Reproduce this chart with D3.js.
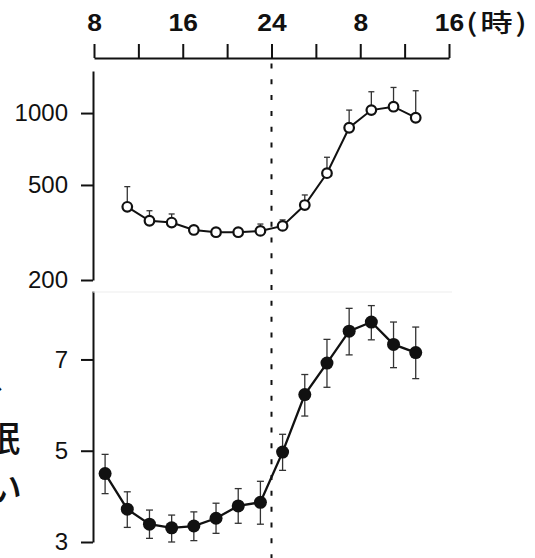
<!DOCTYPE html>
<html>
<head>
<meta charset="utf-8">
<script src="https://cdn.jsdelivr.net/npm/d3@7/dist/d3.min.js"></script>
<style>
	body { margin: 0; background: #fff; }
	svg { display: block; }
</style>
</head>
<body>
<div id="chart"></div>
<script>
/*
	Code for two-panel time course chart
*/

// Clock hours (continuous, 8 h day one -> 16 h day two)
const hourTicks = [8, 12, 16, 20, 24, 28, 32, 36, 40];
const hourLabels = ["8", "", "16", "", "24", "", "8", "", "16"];
const hourUnit = "(時)";

// Upper panel (log axis, open circles, upper error only)
const topHours = [11, 13, 15, 17, 19, 21, 23, 25, 27, 29, 31, 33, 35, 37];
const topValues = [405, 354, 348, 324, 317, 317, 321, 337, 412, 560, 868, 1029, 1063, 956];
const topUpper = [492, 390, 378, 332, 323, 323, 343, 357, 454, 653, 1029, 1228, 1280, 1240];
const topTicks = [200, 500, 1000];

// Lower panel (linear axis, filled circles, two-sided error)
const bottomHours = [9, 11, 13, 15, 17, 19, 21, 23, 25, 27, 29, 31, 33, 35, 37];
const bottomValues = [4.50, 3.72, 3.39, 3.31, 3.35, 3.52, 3.79, 3.87, 4.97, 6.23, 6.92, 7.62, 7.82, 7.33, 7.15];
const bottomLower = [4.06, 3.32, 3.08, 3.00, 3.03, 3.19, 3.41, 3.39, 4.57, 5.76, 6.39, 7.10, 7.43, 6.82, 6.58];
const bottomUpper = [4.92, 4.10, 3.70, 3.59, 3.66, 3.85, 4.17, 4.33, 5.36, 6.67, 7.44, 8.12, 8.18, 7.82, 7.71];
const bottomTicks = [3, 5, 7];

// Lights-off marker
const markerHour = 24;

// Cropped fragments of the vertical label at the left edge
const sideFragments = ["、", "眠", "い"];

class TimeCourseChart {

	// Constructor
	constructor(_parentElement, _width, _height){
		this.parentElement = _parentElement;
		this.svgWidth = _width;
		this.svgHeight = _height;

		this.initializeChart();
	}

	initializeChart(){
		const vis = this;

		vis.axisX = 93;
		vis.topAxisY = 58;

		vis.svg = d3.select(vis.parentElement).append("svg")
			.attr("width", vis.svgWidth)
			.attr("height", vis.svgHeight);

		// Scales
		vis.x = d3.scaleLinear().domain([8, 40]).range([94, 449]);
		vis.yTop = d3.scaleLog().domain([200, 1500]).range([280, 71]);
		vis.yBottom = d3.scaleLinear().domain([3, 8.5]).range([542, 291]);

		vis.drawAxes();
		vis.drawMarker();
		vis.drawTopSeries();
		vis.drawBottomSeries();
		vis.drawSideText();
	}

	drawAxes(){
		const vis = this;

		// Hour axis on top
		const hourAxis = d3.axisTop(vis.x)
			.tickValues(hourTicks)
			.tickSize(14)
			.tickSizeOuter(0)
			.tickPadding(13)
			.tickFormat((d, i) => hourLabels[i]);

		const gx = vis.svg.append("g")
			.attr("class", "hour-axis")
			.attr("transform", "translate(0," + vis.topAxisY + ")")
			.call(hourAxis);

		gx.selectAll("path, line").attr("stroke", "#111").attr("stroke-width", 2);
		// labels in the source look a bit wide, stretch them slightly
		gx.selectAll("text")
			.attr("fill", "#111")
			.attr("transform", "scale(1.1,1)")
			.style("font-family", "'Liberation Sans', Arial, sans-serif")
			.style("font-size", "24px")
			.style("font-weight", "bold");

		vis.svg.append("g")
			.attr("transform", "translate(466,32)")
			.append("text")
			.attr("transform", "scale(1.3,1)")
			.attr("fill", "#111")
			.style("font-family", "'Noto Sans CJK JP', sans-serif")
			.style("font-size", "25px")
			.style("font-weight", "500")
			.style("letter-spacing", "2px")
			.text(hourUnit);

		// Left axes
		const topAxis = d3.axisLeft(vis.yTop)
			.tickValues(topTicks)
			.tickSize(12)
			.tickSizeOuter(0)
			.tickPadding(13)
			.tickFormat(d3.format("d"));

		const bottomAxis = d3.axisLeft(vis.yBottom)
			.tickValues(bottomTicks)
			.tickSize(12)
			.tickSizeOuter(0)
			.tickPadding(13)
			.tickFormat(d3.format("d"));

		[topAxis, bottomAxis].forEach(axis => {
			const g = vis.svg.append("g")
				.attr("transform", "translate(" + vis.axisX + ",0)")
				.call(axis);
			g.selectAll("path, line").attr("stroke", "#111").attr("stroke-width", 2);
			g.selectAll("text")
				.attr("fill", "#111")
				.style("font-family", "'Liberation Sans', Arial, sans-serif")
				.style("font-size", "24px");
		});

		// Faint seam between panels
		vis.svg.append("line")
			.attr("x1", vis.axisX).attr("x2", 452)
			.attr("y1", 292).attr("y2", 292)
			.attr("stroke", "#ededed")
			.attr("stroke-width", 1);
	}

	drawMarker(){
		const vis = this;

		vis.svg.append("line")
			.attr("x1", vis.x(markerHour)).attr("x2", vis.x(markerHour))
			.attr("y1", 63.4).attr("y2", vis.svgHeight)
			.attr("stroke", "#111")
			.attr("stroke-width", 2)
			.attr("stroke-dasharray", "5,10.83");
	}

	drawTopSeries(){
		const vis = this;
		const rows = topHours.map((h, i) => ({h: h, v: topValues[i], hi: topUpper[i]}));
		const g = vis.svg.append("g").attr("class", "top-series");

		// Error bars (upper only)
		const err = g.selectAll(".err").data(rows).enter().append("g").attr("class", "err")
			.attr("stroke", "#333").attr("stroke-width", 1.3);
		err.append("line")
			.attr("x1", d => vis.x(d.h)).attr("x2", d => vis.x(d.h))
			.attr("y1", d => vis.yTop(d.v)).attr("y2", d => vis.yTop(d.hi));
		err.append("line")
			.attr("x1", d => vis.x(d.h) - 3).attr("x2", d => vis.x(d.h) + 3)
			.attr("y1", d => vis.yTop(d.hi)).attr("y2", d => vis.yTop(d.hi));

		const line = d3.line().x(d => vis.x(d.h)).y(d => vis.yTop(d.v));
		g.append("path")
			.datum(rows)
			.attr("d", line)
			.attr("fill", "none")
			.attr("stroke", "#111")
			.attr("stroke-width", 2);

		g.selectAll(".pt").data(rows).enter().append("circle")
			.attr("class", "pt")
			.attr("cx", d => vis.x(d.h))
			.attr("cy", d => vis.yTop(d.v))
			.attr("r", 4.8)
			.attr("fill", "#fff")
			.attr("stroke", "#111")
			.attr("stroke-width", 2.2);
	}

	drawBottomSeries(){
		const vis = this;
		const rows = bottomHours.map((h, i) => ({h: h, v: bottomValues[i], lo: bottomLower[i], hi: bottomUpper[i]}));
		const g = vis.svg.append("g").attr("class", "bottom-series");

		// Error bars (both sides)
		const err = g.selectAll(".err").data(rows).enter().append("g").attr("class", "err")
			.attr("stroke", "#333").attr("stroke-width", 1.3);
		err.append("line")
			.attr("x1", d => vis.x(d.h)).attr("x2", d => vis.x(d.h))
			.attr("y1", d => vis.yBottom(d.lo)).attr("y2", d => vis.yBottom(d.hi));
		err.selectAll(".cap").data(d => [[d.h, d.lo], [d.h, d.hi]]).enter().append("line")
			.attr("class", "cap")
			.attr("x1", d => vis.x(d[0]) - 3.5).attr("x2", d => vis.x(d[0]) + 3.5)
			.attr("y1", d => vis.yBottom(d[1])).attr("y2", d => vis.yBottom(d[1]));

		const line = d3.line().x(d => vis.x(d.h)).y(d => vis.yBottom(d.v));
		g.append("path")
			.datum(rows)
			.attr("d", line)
			.attr("fill", "none")
			.attr("stroke", "#111")
			.attr("stroke-width", 2.3);

		g.selectAll(".pt").data(rows).enter().append("circle")
			.attr("class", "pt")
			.attr("cx", d => vis.x(d.h))
			.attr("cy", d => vis.yBottom(d.v))
			.attr("r", 6.5)
			.attr("fill", "#111");
	}

	drawSideText(){
		const vis = this;
		// the label is cropped by the left edge in the source, only right parts show
		const spots = [{x: -11, y: 390}, {x: -16, y: 452}, {x: -14, y: 502}];

		vis.svg.selectAll(".side").data(sideFragments).enter().append("text")
			.attr("class", "side")
			.attr("x", (d, i) => spots[i].x)
			.attr("y", (d, i) => spots[i].y)
			.attr("fill", "#111")
			.style("font-family", "'Noto Sans CJK JP', sans-serif")
			.style("font-size", "36px")
			.style("font-weight", "500")
			.text(d => d);
	}
}

new TimeCourseChart("#chart", 535, 558);
</script>
</body>
</html>
